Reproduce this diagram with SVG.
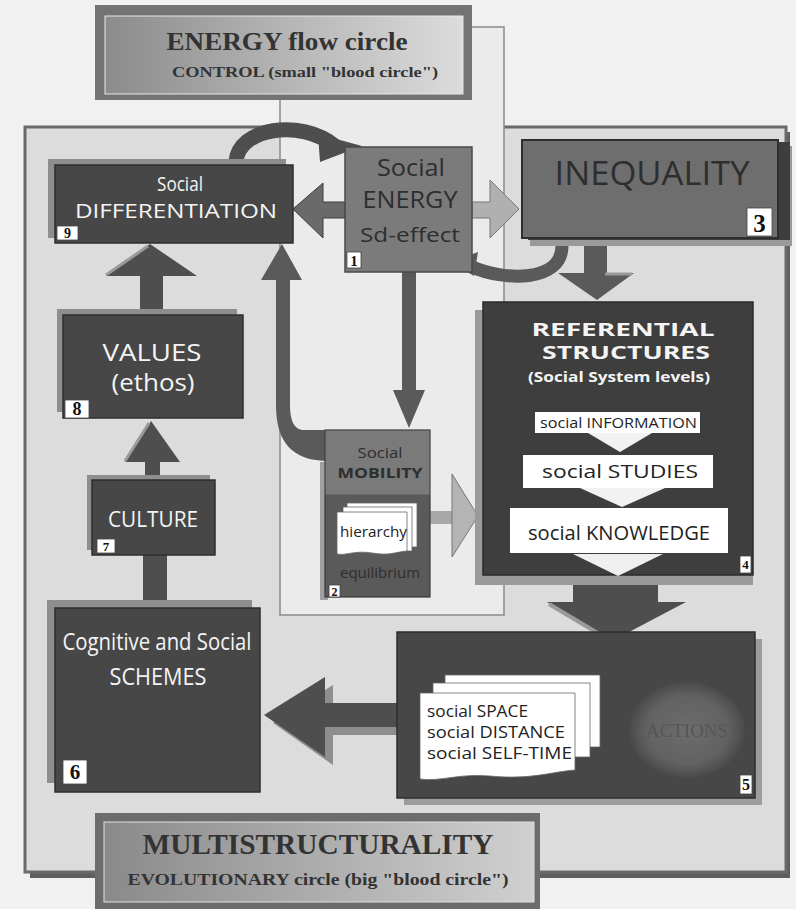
<svg xmlns="http://www.w3.org/2000/svg" width="796" height="909" viewBox="0 0 796 909">
<defs>
<style>
.cw{font-family:"Open Sans","DejaVu Sans",sans-serif;fill:#f4f4f4;text-anchor:middle}
.cd{font-family:"Open Sans","DejaVu Sans",sans-serif;fill:#2e2e2e;text-anchor:middle}
.ck{font-family:"Open Sans","DejaVu Sans",sans-serif;fill:#222}
.hd{font-family:"Liberation Serif","Times New Roman",serif;font-weight:bold;fill:#333;text-anchor:middle}
.lb{fill:#fff;stroke:#444;stroke-width:0.8}
.lt{font-family:"Liberation Serif",serif;font-weight:bold;fill:#111;text-anchor:middle}
.dk{fill:#474747;stroke:#2e2e2e;stroke-width:1.5}
.sh{fill:#8e8e8e}
.ar{fill:#4e4e4e}
.card{fill:#fff;stroke:#666;stroke-width:0.8}
</style>
<linearGradient id="hg" x1="0" y1="0" x2="1" y2="0">
<stop offset="0" stop-color="#8c8c8c"/><stop offset="0.5" stop-color="#b4b4b4"/><stop offset="1" stop-color="#dcdcdc"/>
</linearGradient>
<linearGradient id="lg" x1="0" y1="0" x2="1" y2="0">
<stop offset="0" stop-color="#8a8a8a"/><stop offset="1" stop-color="#d0d0d0"/>
</linearGradient>
<radialGradient id="rg" cx="0.5" cy="0.5" r="0.5">
<stop offset="0" stop-color="#6c6c6c"/><stop offset="0.7" stop-color="#626262"/><stop offset="1" stop-color="#4a4a4a"/>
</radialGradient>
</defs>

<rect x="0" y="0" width="796" height="909" fill="#f1f1f1"/>

<g id="frames">
<rect x="30" y="132" width="760" height="746" fill="#5e5e5e"/>
<rect x="25" y="127" width="761" height="745" fill="#dcdcdc" stroke="#6a6a6a" stroke-width="3"/>
<rect x="280" y="27" width="224" height="588" fill="#ebebeb" stroke="#8a8a8a" stroke-width="1.5"/>
</g>

<g id="header-top">
<rect x="95" y="5" width="377" height="95" fill="#737373"/>
<rect x="105" y="16" width="358" height="78" fill="url(#hg)" stroke="#e8e8e8" stroke-width="1"/>
<text class="hd" x="287" y="50" font-size="26" textLength="241" lengthAdjust="spacingAndGlyphs">ENERGY flow circle</text>
<text class="hd" x="305" y="77" font-size="15" textLength="266" lengthAdjust="spacingAndGlyphs">CONTROL (small "blood circle")</text>
</g>

<g id="connectors">
<path d="M 236 162 C 238 128, 300 118, 335 146" fill="none" stroke="#4e4e4e" stroke-width="15"/>
<polygon class="ar" points="318,134 362,146 320,162"/>
<path d="M 562 246 C 562 282, 505 282, 470 266" fill="none" stroke="#5a5a5a" stroke-width="13"/>
<polygon fill="#5a5a5a" points="478,252 451,262 474,276"/>
<polygon fill="#6a6a6a" stroke="#3e3e3e" stroke-width="1" points="345,202 323,202 323,183 293,209 323,238 323,218 345,218"/>
<polygon fill="#b0b0b0" stroke="#777" stroke-width="1" points="472,202 490,202 490,180 519,209 490,238 490,218 472,218"/>
<rect x="584" y="242" width="23" height="34" fill="#5a5a5a"/>
<polygon fill="#5a5a5a" points="558,273 634,273 597,300"/>
<line x1="605" y1="274" x2="632" y2="274" stroke="#9a9a9a" stroke-width="3"/>
<rect x="402" y="272" width="14" height="122" fill="#5a5a5a"/>
<polygon fill="#5a5a5a" points="393,390 409,428 425,390"/>
<path d="M 276 276 L 276 405 C 276 442, 292 460, 326 461 L 326 430 L 304 430 C 294 430, 290 420, 290 405 L 290 276 Z" fill="#5a5a5a"/>
<polygon fill="#5a5a5a" points="261,280 282,244 302,280"/>
<rect x="430" y="511" width="24" height="13" fill="#a8a8a8"/>
<polygon fill="#b4b4b4" stroke="#777" stroke-width="1" points="452,474 478,516 452,557"/>
<rect x="140" y="272" width="23" height="45" class="ar"/>
<polygon class="ar" points="106,276 150,244 197,276"/>
<line x1="106" y1="275" x2="148" y2="246" stroke="#9a9a9a" stroke-width="3"/>
<rect x="145" y="458" width="15" height="24" class="ar"/>
<polygon class="ar" points="125,462 151,421 180,462"/>
<line x1="125" y1="461" x2="149" y2="423" stroke="#9a9a9a" stroke-width="3"/>
<rect x="143" y="553" width="24" height="57" class="ar"/>
<rect x="573" y="572" width="85" height="32" class="ar"/>
<polygon class="ar" points="547,602 686,602 612,641"/>
<line x1="549" y1="604" x2="611" y2="641" stroke="#9a9a9a" stroke-width="4"/>
<polygon class="sh" points="405,711 333,711 333,685 273,723 333,765 333,735 405,735"/>
<polygon class="ar" points="398,703 325,703 325,677 264,715 325,757 325,727 398,727"/>
</g>

<g id="n9">
<rect class="sh" x="48" y="159" width="238" height="79"/>
<rect class="dk" x="55" y="165" width="238" height="78"/>
<text class="cw" x="180" y="191" font-size="20" textLength="46" lengthAdjust="spacingAndGlyphs">Social</text>
<text class="cw" x="176" y="218" font-size="20" textLength="202" lengthAdjust="spacingAndGlyphs">DIFFERENTIATION</text>
<rect class="lb" x="57" y="226" width="21" height="14"/>
<text class="lt" x="67.5" y="238" font-size="14">9</text>
</g>

<g id="n1">
<rect x="345" y="147" width="127" height="125" fill="#7b7b7b" stroke="#4a4a4a" stroke-width="1.5"/>
<text class="cd" x="411" y="176" font-size="23" textLength="68" lengthAdjust="spacingAndGlyphs">Social</text>
<text class="cd" x="410" y="208" font-size="23" textLength="95" lengthAdjust="spacingAndGlyphs">ENERGY</text>
<text class="cd" x="410" y="242" font-size="20" textLength="100" lengthAdjust="spacingAndGlyphs">Sd-effect</text>
<rect class="lb" x="347" y="252" width="14" height="16"/>
<text class="lt" x="354" y="266" font-size="15">1</text>
</g>

<g id="n3">
<rect x="530" y="146" width="262" height="100" fill="#9a9a9a"/>
<rect x="528" y="142" width="262" height="98" fill="#3e3e3e"/>
<rect x="522" y="140" width="256" height="98" fill="#6e6e6e" stroke="#2e2e2e" stroke-width="2"/>
<text class="cd" x="652" y="185" font-size="32" fill="#333" textLength="195" lengthAdjust="spacingAndGlyphs">INEQUALITY</text>
<rect class="lb" x="747" y="208" width="25" height="28"/>
<text class="lt" x="759.5" y="232" font-size="25">3</text>
</g>

<g id="n4">
<rect x="475" y="310" width="278" height="275" fill="#9a9a9a"/>
<rect x="483" y="302" width="270" height="273" fill="#3e3e3e" stroke="#2a2a2a" stroke-width="1.5"/>
<text class="cw" x="623" y="336" font-size="17" font-weight="bold" textLength="183" lengthAdjust="spacingAndGlyphs">REFERENTIAL</text>
<text class="cw" x="626" y="359" font-size="17" font-weight="bold" textLength="168" lengthAdjust="spacingAndGlyphs">STRUCTURES</text>
<text class="cw" x="619" y="382" font-size="15" font-weight="bold" textLength="182" lengthAdjust="spacingAndGlyphs">(Social System levels)</text>
<rect x="535" y="412" width="165" height="21" fill="#fff"/>
<text class="ck" x="540" y="428" font-size="14" textLength="157" lengthAdjust="spacingAndGlyphs">social INFORMATION</text>
<polygon fill="#f2f2f2" points="588,433 652,433 620,452"/>
<rect x="523" y="455" width="190" height="33" fill="#fff"/>
<text class="ck" x="542" y="478" font-size="18" textLength="156" lengthAdjust="spacingAndGlyphs">social STUDIES</text>
<polygon fill="#f2f2f2" points="580,488 665,488 622,507"/>
<rect x="510" y="508" width="218" height="45" fill="#fff"/>
<text class="ck" x="528" y="540" font-size="20" textLength="182" lengthAdjust="spacingAndGlyphs">social KNOWLEDGE</text>
<rect class="lb" x="740" y="556" width="11" height="17"/>
<text class="lt" x="745.5" y="569" font-size="13">4</text>
<polygon fill="#efefef" points="573,554 663,554 618,576"/>
</g>

<g id="n8">
<rect class="sh" x="57" y="309" width="180" height="103"/>
<rect class="dk" x="63" y="315" width="180" height="103"/>
<text class="cw" x="152" y="361" font-size="24" textLength="99" lengthAdjust="spacingAndGlyphs">VALUES</text>
<text class="cw" x="153" y="391" font-size="24" textLength="83" lengthAdjust="spacingAndGlyphs">(ethos)</text>
<rect class="lb" x="65" y="400" width="24" height="18"/>
<text class="lt" x="77" y="415" font-size="18">8</text>
</g>

<g id="n7">
<rect class="sh" x="87" y="475" width="123" height="75"/>
<rect class="dk" x="92" y="480" width="123" height="75"/>
<text class="cw" x="153" y="527" font-size="21" textLength="90" lengthAdjust="spacingAndGlyphs">CULTURE</text>
<rect class="lb" x="97" y="539" width="18" height="14"/>
<text class="lt" x="106" y="551" font-size="13">7</text>
</g>

<g id="n2">
<rect x="320" y="462" width="8" height="138" fill="#a0a0a0"/>
<rect x="325" y="430" width="105" height="167" fill="#5a5a5a" stroke="#3a3a3a" stroke-width="1.2"/>
<rect x="325.6" y="430.6" width="103.8" height="64" fill="#7a7a7a"/>
<text class="cd" x="380" y="458" font-size="15" fill="#3a3a3a" textLength="45" lengthAdjust="spacingAndGlyphs">Social</text>
<text class="cd" x="380" y="478" font-size="15" font-weight="bold" fill="#3a3a3a" textLength="85" lengthAdjust="spacingAndGlyphs">MOBILITY</text>
<rect class="card" x="347" y="503" width="70" height="44"/>
<rect class="card" x="343" y="507" width="69" height="44"/>
<path class="card" d="M 337 512 L 407 512 L 407 551 C 395 552, 390 556, 372 553 C 355 550, 345 556, 337 554 Z"/>
<text class="ck" x="340" y="537" font-size="15" textLength="67" lengthAdjust="spacingAndGlyphs">hierarchy</text>
<text class="cd" x="380" y="578" font-size="15" fill="#333" textLength="80" lengthAdjust="spacingAndGlyphs">equilibrium</text>
<rect class="lb" x="329" y="585" width="11" height="12"/>
<text class="lt" x="334.5" y="596" font-size="12">2</text>
</g>

<g id="n6">
<rect class="sh" x="47" y="600" width="205" height="183"/>
<rect class="dk" x="55" y="608" width="205" height="184"/>
<text class="cw" x="157" y="650" font-size="24" textLength="189" lengthAdjust="spacingAndGlyphs">Cognitive and Social</text>
<text class="cw" x="158" y="685" font-size="23" textLength="97" lengthAdjust="spacingAndGlyphs">SCHEMES</text>
<rect class="lb" x="63" y="760" width="24" height="24"/>
<text class="lt" x="75" y="779" font-size="21">6</text>
</g>

<g id="n5">
<rect x="404" y="639" width="358" height="166" fill="#9c9c9c"/>
<rect x="397" y="632" width="358" height="166" fill="#474747" stroke="#2e2e2e" stroke-width="1.5"/>
<ellipse cx="687" cy="730" rx="58" ry="48" fill="url(#rg)"/>
<text x="687" y="737" font-family="Liberation Serif,serif" font-size="19" fill="#565656" text-anchor="middle" textLength="82" lengthAdjust="spacingAndGlyphs">ACTIONS</text>
<rect class="card" x="445" y="675" width="155" height="72"/>
<rect class="card" x="433" y="683" width="157" height="74"/>
<path class="card" d="M 420 693 L 575 693 L 575 770 C 550 772, 530 780, 490 776 C 460 773, 440 782, 420 779 Z"/>
<text class="ck" x="427" y="717" font-size="16" textLength="101" lengthAdjust="spacingAndGlyphs">social SPACE</text>
<text class="ck" x="427" y="738" font-size="16" textLength="138" lengthAdjust="spacingAndGlyphs">social DISTANCE</text>
<text class="ck" x="427" y="759" font-size="16" textLength="145" lengthAdjust="spacingAndGlyphs">social SELF-TIME</text>
<rect class="lb" x="740" y="775" width="12" height="19"/>
<text class="lt" x="746" y="790" font-size="16" font-weight="normal">5</text>
</g>

<g id="header-bottom">
<rect x="95" y="813" width="445" height="96" fill="#6c6c6c"/>
<rect x="104" y="822" width="430" height="80" fill="url(#lg)" stroke="#e0e0e0" stroke-width="1"/>
<text class="hd" x="318" y="854" font-size="29" textLength="351" lengthAdjust="spacingAndGlyphs">MULTISTRUCTURALITY</text>
<text class="hd" x="318" y="885" font-size="16" textLength="381" lengthAdjust="spacingAndGlyphs">EVOLUTIONARY circle (big "blood circle")</text>
</g>
</svg>
